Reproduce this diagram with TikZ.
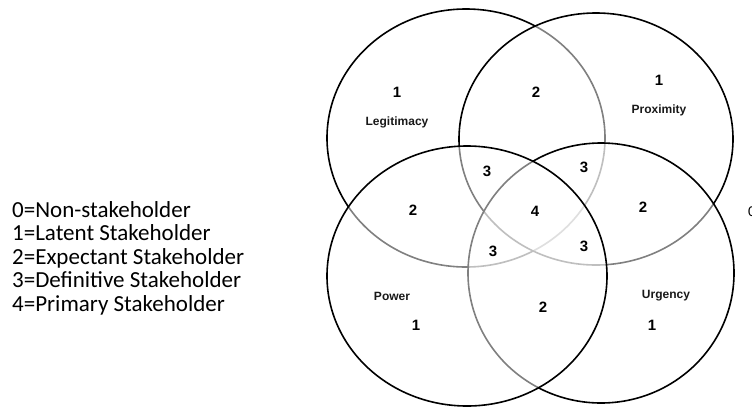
\documentclass[tikz,border=0pt]{standalone}
\usepackage{fontspec}
\setmainfont{Liberation Sans}
\newfontfamily\legendfont{Carlito}
\begin{document}
\begin{tikzpicture}[x=1pt,y=-1pt,
  circ/.style={draw=black, line width=1.6pt, fill=white, fill opacity=0.5},
  num/.style={font=\bfseries\fontsize{15}{15}\selectfont, text=black, inner sep=0pt},
  lab/.style={font=\bfseries\fontsize{12}{12}\selectfont, text=black!90, inner sep=0pt},
  legend/.style={font=\legendfont\fontsize{23}{23}\selectfont, anchor=base west, inner sep=0pt}]
\useasboundingbox (0,0) rectangle (752,408);

% four attribute sets, stacked so that covered arcs fade
\path[circ] (466,138) ellipse [x radius=139, y radius=129]; % legitimacy
\path[circ] (596,139) ellipse [x radius=137, y radius=126]; % proximity
\path[circ] (601,273) ellipse [x radius=133, y radius=130]; % urgency
\path[circ] (467,276) ellipse [x radius=140, y radius=130]; % power

% set names
\node[lab] (legit) at (397,122) {Legitimacy};
\node[lab] (prox)  at (659,110) {Proximity};
\node[lab] (power) at (392,296) {Power};
\node[lab] (urg)   at (666,296) {Urgency};

% stakeholder class of each region
\node[num] (l1)  at (397,92)  {1};
\node[num] (lp2) at (536,92)  {2};
\node[num] (p1)  at (659,80)  {1};
\node[num] (a3)  at (487,171) {3};
\node[num] (b3)  at (584,167) {3};
\node[num] (lw2) at (413,210) {2};
\node[num] (c4)  at (535,211) {4};
\node[num] (pu2) at (643,207) {2};
\node[num] (c3)  at (493,251) {3};
\node[num] (d3)  at (584,246) {3};
\node[num] (w1)  at (416,325) {1};
\node[num] (wu2) at (543,307) {2};
\node[num] (u1)  at (652,325) {1};
\node[font=\legendfont\fontsize{15}{15}\selectfont, anchor=west, inner sep=0pt] (out0) at (748,212) {0};

% key
\node[legend] (k0) at (12,217) {0=Non-stakeholder};
\node[legend] (k1) at (12,240.5) {1=Latent Stakeholder};
\node[legend] (k2) at (12,264) {2=Expectant Stakeholder};
\node[legend] (k3) at (12,287.5) {3=Definitive Stakeholder};
\node[legend] (k4) at (12,311) {4=Primary Stakeholder};
\end{tikzpicture}
\end{document}
